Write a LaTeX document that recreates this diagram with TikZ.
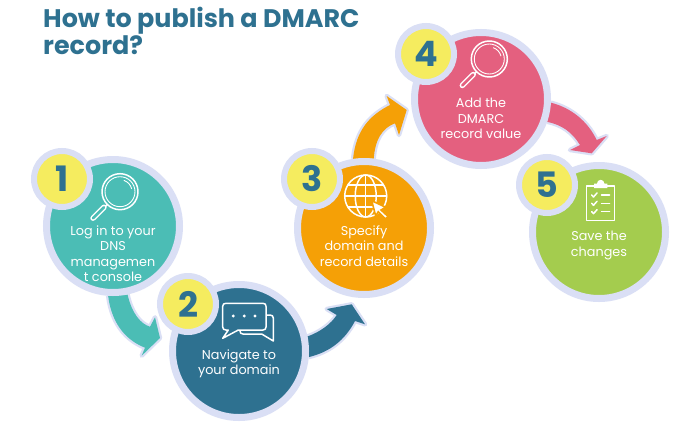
\documentclass[tikz,border=0pt]{standalone}
\usepackage{fontspec}
\setmainfont{Poppins}
\newfontfamily\popbold{Poppins}[UprightFont=* Bold]
\definecolor{halo}{HTML}{DADFF5}
\definecolor{ink}{HTML}{2E7190}
\definecolor{tealc}{HTML}{4BBDB5}
\definecolor{navyc}{HTML}{2E7190}
\definecolor{orangec}{HTML}{F5A006}
\definecolor{pinkc}{HTML}{E4607F}
\definecolor{greenc}{HTML}{A4CC4E}
\definecolor{yellowc}{HTML}{F5EC5F}
\tikzset{
  disc/.style={circle,draw=halo,line width=7pt,minimum size=133pt,inner sep=0pt,fill=#1},
  badge/.style={circle,draw=halo,line width=6pt,minimum size=56pt,inner sep=0pt,fill=yellowc,text=ink,
    font=\popbold\fontsize{35}{35}\selectfont},
  label/.style={text=white,align=center,inner sep=0pt,font=\fontsize{12.8}{15.4}\selectfont},
  flow/.style={preaction={draw=halo,line width=4.4pt,line join=round},fill=#1},
  ic/.style={draw=white,line width=1.5pt,line join=round,line cap=round},
  pics/lens/.style={code={
    \draw[ic] (0,0) circle[radius=18pt];
    \draw[ic,line width=.9pt] (0,0) circle[radius=15pt];
    \draw[ic,line width=.9pt] ([shift={(70:12pt)}]0,0) arc[start angle=70,end angle=15,radius=12pt];
    \draw[ic] (-12.7,12.7) -- (-15.5,15.5);
    \draw[draw=white,line width=5.4pt,line cap=round] (-16,15.5) -- (-27,26.5);
    \draw[draw=#1,line width=2.6pt,line cap=round] (-16,15.5) -- (-27,26.5);
  }}
}
\begin{document}
\begin{tikzpicture}[x=1pt,y=-1pt]
\useasboundingbox (0,0) rectangle (700,423);
\fill[white] (0,0) rectangle (700,423);
% step discs placed first so connectors can use their anchors (redrawn below)
\path node[circle,minimum size=140pt,inner sep=0pt,outer sep=0pt] (c1) at (113,226) {}
      node[circle,minimum size=140pt,inner sep=0pt,outer sep=0pt] (c2) at (239,351) {}
      node[circle,minimum size=140pt,inner sep=0pt,outer sep=0pt] (c3) at (364,228) {}
      node[circle,minimum size=140pt,inner sep=0pt,outer sep=0pt] (c4) at (481,99) {}
      node[circle,minimum size=140pt,inner sep=0pt,outer sep=0pt] (c5) at (599,232) {};
\coordinate (t1) at (160,338);
\coordinate (t2) at (351.7,304.3);
\coordinate (t3) at (406.7,110);
\coordinate (t4) at (591.7,153.3);
% connectors
\draw[flow=tealc,draw=none] (c1.-94) .. controls (112,326) and (128,341) .. (145,347.7)
  -- (141.7,355.7) -- (t1) -- (155,317.3) -- (150,326.7)
  .. controls (141,324) and (132,314) .. (c1.-78);
\draw[flow=navyc,draw=none] (c2.12) .. controls (320,332) and (331,324) .. (336.7,315)
  -- (326.7,309) -- (t2) -- (365,324.3) -- (355,321)
  .. controls (345,340) and (330,352) .. (c2.-5);
\draw[flow=orangec,draw=none] (c3.99.5) .. controls (356,130) and (370,115) .. (390,105)
  -- (386.7,96) -- (t3) -- (399,135) -- (395,123.3)
  .. controls (382,128) and (375,140) .. (c3.82);
\draw[flow=pinkc,draw=none] (c4.-3.5) .. controls (572,108) and (588,122) .. (596.7,140)
  -- (606.7,136) -- (t4) -- (570,150) -- (580,145)
  .. controls (572,132) and (562,125) .. (c4.-19);
% discs
\node[disc=tealc] (d1) at (c1) {};
\node[disc=navyc] (d2) at (c2) {};
\node[disc=orangec] (d3) at (c3) {};
\node[disc=pinkc] (d4) at (c4) {};
\node[disc=greenc] (d5) at (c5) {};
% badges
\node[badge] (b1) at (62,179) {1};
\node[badge] (b2) at (188,304) {2};
\node[badge] (b3) at (312,179) {3};
\node[badge] (b4) at (426,54) {4};
\node[badge] (b5) at (547,185) {5};
% title
\node[anchor=north west,inner sep=0pt,align=left,text=ink,font=\popbold\fontsize{25.4}{25}\selectfont] (title) at (43,7) {How to publish a DMARC\\record?};
% labels
\node[label] (l1) at (113,253.5) {Log in to your\\DNS\\managemen\\t console};
\node[label] (l2) at (239,363.5) {Navigate to\\your domain};
\node[label] (l3) at (364,246) {Specify\\domain and\\record details};
\node[label] (l4) at (481,118.5) {Add the\\DMARC\\record value};
\node[label] (l5) at (599,245.5) {Save the\\changes};
% magnifiers
\pic at (120,191.7) {lens=tealc};
\pic at (489.3,59) {lens=pinkc};
% chat icon
\draw[ic] (240,330) -- (240,331) .. controls (240,333) and (241,334) .. (243,334) -- (261.7,334) -- (273.3,341) -- (273.3,334) -- (273.3,318) .. controls (273.3,316) and (272,315) .. (270,315) -- (266,315);
\draw[ic,fill=navyc] (226,303.3) -- (263,303.3) .. controls (265,303.3) and (266,304.3) .. (266,306.3)
  -- (266,327) .. controls (266,329) and (265,330) .. (263,330) -- (238.3,330) -- (222.7,338.3) -- (228.3,330) -- (226,330)
  .. controls (224,330) and (222.7,329) .. (222.7,327) -- (222.7,306.3) .. controls (222.7,304.3) and (224,303.3) .. (226,303.3) -- cycle;
\fill[white] (233.3,316) circle[radius=1.6pt] (244.3,316) circle[radius=1.6pt] (255,316) circle[radius=1.6pt];
% globe icon
\draw[ic] (365.7,196) circle[radius=21pt];
\draw[ic] (365.7,196) ellipse[x radius=10.5pt,y radius=21pt];
\draw[ic] (365.7,175) -- (365.7,217);
\draw[ic] (344.7,196) -- (386.7,196);
\draw[ic] (348,185) -- (383.4,185);
\draw[ic] (348,207) -- (383.4,207);
\draw[draw=orangec,line width=1.6pt,fill=white,line join=miter] (371.7,200.7) -- (385.7,207.3) -- (381,210) -- (388.3,216.7) -- (385.3,218.7) -- (378.3,211.7) -- (375.7,216) -- cycle;
% clipboard icon
\draw[ic,line cap=butt] (594,186) -- (586.7,186) -- (586.7,220.3) -- (614.3,220.3) -- (614.3,186) -- (607,186);
\fill[white] (594,188) -- (594,183.5) -- (597,183.5) arc[start angle=180,end angle=0,radius=3.7pt] -- (607.4,183.5) -- (607.4,188) -- cycle;
\draw[ic] (591.7,195) -- (593.5,197) -- (597,193);
\draw[ic] (591.7,203.3) -- (593.5,205.3) -- (597,201.3);
\draw[ic] (591.7,211.7) -- (593.5,213.7) -- (597,209.7);
\draw[ic] (601.5,195) -- (609.5,195);
\draw[ic] (601.5,203.3) -- (609.5,203.3);
\draw[ic] (601.5,211.7) -- (609.5,211.7);
\end{tikzpicture}
\end{document}
